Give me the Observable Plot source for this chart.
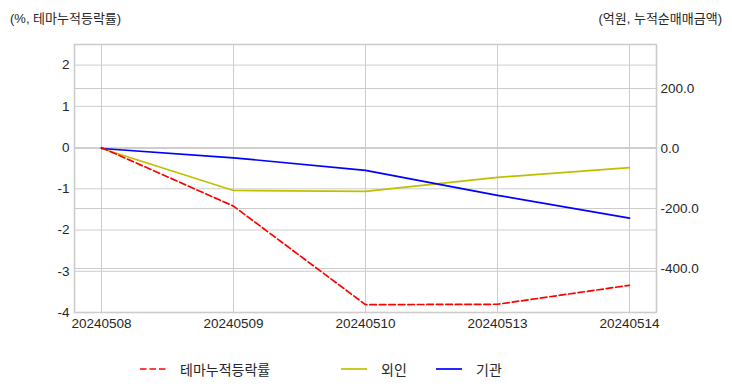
<!DOCTYPE html>
<html>
<head>
<meta charset="utf-8">
<script src="https://cdn.jsdelivr.net/npm/d3@7"></script>
<script src="https://cdn.jsdelivr.net/npm/@observablehq/plot@0.6"></script>
<style>
  html, body { margin: 0; padding: 0; background: #fff; }
  body { width: 732px; height: 392px; position: relative; overflow: hidden;
         font-family: "Liberation Sans", Arial, "Noto Sans CJK KR", sans-serif; color: #262626; }
  .title { position: absolute; top: 8px; font-size: 13px; white-space: nowrap; }
  #legend { position: absolute; top: 360px; left: 0; width: 732px; height: 20px; font-size: 14px; }
  .item { position: absolute; top: 0; display: flex; align-items: center; height: 18px; }
  .item svg { margin-right: 14px; }
</style>
</head>
<body>
<div id="chart"></div>
<div class="title" style="left:10px">(%, 테마누적등락률)</div>
<div class="title" style="right:10px">(억원, 누적순매매금액)</div>
<div id="legend"></div>
<script>
const dates = ["20240508", "20240509", "20240510", "20240513", "20240514"];
const themeReturn = [0, -1.42, -3.81, -3.80, -3.34];   // %, left axis
const foreign = [0, -140, -143, -96, -64];              // 억원, right axis
const institution = [0, -31, -73, -156, -232];          // 억원, right axis
const leftTicks = [-4, -3, -2, -1, 0, 1, 2];
const rightTicks = [-400, -200, 0, 200];
const leftDomain = [-4, 2.5];
const rightDomain = [-546.7, 346.7];
const seriesNames = ["테마누적등락률", "외인", "기관"];
const seriesColors = ["#ff0000", "#bfbf00", "#0000ff"];

const r2l = d3.scaleLinear(rightDomain, leftDomain);

const rows = dates.map((d, i) => ({
  date: d,
  theme: themeReturn[i],
  foreign: r2l(foreign[i]),
  inst: r2l(institution[i])
}));

const grid = {stroke: "#cccccc", strokeOpacity: 1, strokeWidth: 1};

const chart = Plot.plot({
  width: 732,
  height: 392,
  marginLeft: 74,
  marginRight: 76,
  marginTop: 44,
  marginBottom: 80,
  style: {fontFamily: '"Liberation Sans", Arial, "Noto Sans CJK KR", sans-serif', fontSize: "13.5px", color: "#262626", background: "#fff"},
  x: {type: "point", domain: dates, padding: 0.19},
  y: {domain: leftDomain},
  marks: [
    Plot.gridX(dates, grid),
    Plot.gridY(leftTicks, grid),
    Plot.gridY(rightTicks.map(r2l), grid),
    Plot.frame({stroke: "#cccccc", strokeWidth: 1.6}),
    Plot.line(rows, {x: "date", y: "foreign", stroke: seriesColors[1], strokeWidth: 1.7}),
    Plot.line(rows, {x: "date", y: "inst", stroke: seriesColors[2], strokeWidth: 1.7}),
    Plot.line(rows, {x: "date", y: "theme", stroke: seriesColors[0], strokeWidth: 1.7, strokeDasharray: "6.5,3"}),
    Plot.axisX(dates, {tickSize: 0, tickPadding: 6, label: null, fill: "#262626"}),
    Plot.axisY(leftTicks, {anchor: "left", tickSize: 0, tickPadding: 5, label: null, tickFormat: d => String(d), fill: "#262626"}),
    Plot.axisY(rightTicks.map(r2l), {anchor: "right", tickSize: 0, tickPadding: 4, label: null,
      tickFormat: d => (Math.round(r2l.invert(d) * 10) / 10).toFixed(1), fill: "#262626"})
  ]
});
document.getElementById("chart").appendChild(chart);

// legend
const legend = document.getElementById("legend");
const lefts = [140, 341, 436];
seriesNames.forEach((name, i) => {
  const item = document.createElement("div");
  item.className = "item";
  item.style.left = lefts[i] + "px";
  const dash = i === 0 ? ' stroke-dasharray="6.5,3"' : '';
  item.innerHTML = `<svg width="26" height="10"><line x1="0" x2="26" y1="5" y2="5" stroke="${seriesColors[i]}" stroke-width="1.7"${dash}/></svg><span>${name}</span>`;
  legend.appendChild(item);
});
</script>
</body>
</html>
